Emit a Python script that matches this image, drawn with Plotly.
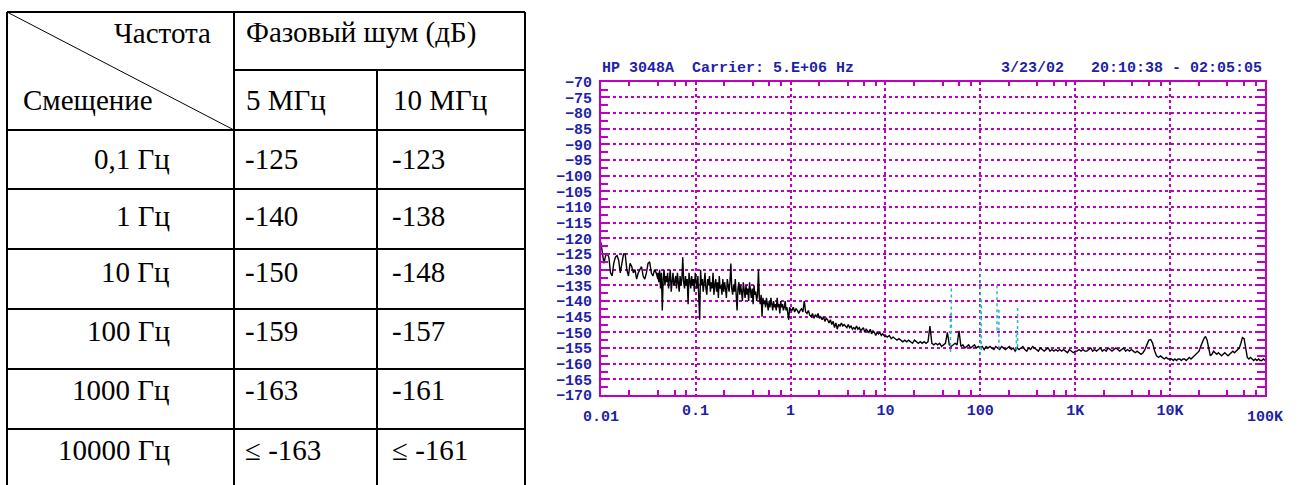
import numpy as np
import plotly.graph_objects as go

# ---------------- Table data ----------------
hdr_freq = "Частота"
hdr_offset = "Смещение"
hdr_noise = "Фазовый шум (дБ)"
carriers = ["5 МГц", "10 МГц"]
offsets = ["0,1 Гц", "1 Гц", "10 Гц", "100 Гц", "1000 Гц", "10000 Гц"]
noise_5mhz = ["-125", "-140", "-150", "-159", "-163", "≤ -163"]
noise_10mhz = ["-123", "-138", "-148", "-157", "-161", "≤ -161"]

# ---------------- Chart data ----------------
chart_title_left = "HP 3048A\u00a0\u00a0Carrier: 5.E+06 Hz"
chart_title_right = "3/23/02\u00a0\u00a0 20:10:38 - 02:05:05"

x_tick_vals = [0.1, 1, 10, 100, 1000, 10000]
x_tick_text = ["0.1", "1", "10", "100", "1K", "10K"]
x_edge_vals = [0.01, 100000]
x_edge_text = ["0.01", "100K"]

# measured phase noise trace, split into frequency segments (Hz) with values (dBc/Hz)
seg_edges = [(0.01, 0.04), (0.04, 1.0), (1.0, 10.0), (10.0, 100.0),
             (100.0, 1000.0), (1000.0, 10000.0), (10000.0, 100000.0)]
seg1 = [-121, -124, -128, -125.5, -125, -126, -131, -132, -128, -126,
        -125.5, -127, -131, -128, -125, -125, -130, -132, -128, -129,
        -131, -130, -133, -131, -130, -129, -132, -133, -131, -128,
        -127.5, -131, -132, -130, -131, -133]
seg2 = [-131, -134, -130, -136, -131, -143, -133, -130, -135, -132,
        -134, -131, -136, -132, -130, -137, -133, -131, -135, -134,
        -132, -136, -131, -134, -137, -132, -135, -133, -126, -134,
        -136, -132, -135, -133, -141, -131, -134, -136, -132, -135,
        -133, -137, -131, -134, -136, -132, -138, -146, -130, -135,
        -133, -137, -134, -131, -136, -138, -133, -135, -132, -137,
        -134, -136, -131, -138, -135, -133, -137, -134, -139, -132,
        -136, -135, -138, -133, -137, -134, -136, -139, -133, -135,
        -137, -134, -128, -136, -138, -135, -137, -133, -139, -143,
        -136, -134, -138, -135, -137, -140, -134, -136, -139, -135,
        -138, -136, -140, -134, -137, -139, -136, -141, -135, -138,
        -137, -140, -138, -130, -139, -141, -138, -145, -139, -141,
        -140, -142, -139, -141, -143, -140, -142, -139, -141, -143,
        -140, -142, -141, -143, -139, -142, -141, -144, -140, -142,
        -141, -143, -142, -140, -143, -142, -144, -146, -142, -143]
seg3 = [-142.5, -143, -142, -143.5, -142.5, -143, -144, -143, -142.5, -143.5,
        -140, -143.5, -144, -143, -144.5, -145, -144, -145.5, -144.5, -145,
        -144, -145.5, -145, -146, -145, -146.5, -145.5, -146, -147, -146,
        -147.5, -146.5, -148.5, -147, -149, -147.5, -148, -147, -148, -147.5,
        -148, -148.5, -147.5, -148.5, -148, -149, -148.5, -149, -148, -149,
        -148.5, -149.5, -149, -148.5, -150, -149, -149.5, -150, -149, -150.5,
        -149.5, -150, -151, -150, -150.5, -150, -151, -150.5, -151, -151.5]
seg4 = [-151, -151.5, -151, -152, -151.5, -152, -152.5, -152, -152.5, -153,
        -152.5, -153, -152.5, -153, -153.5, -152.5, -153, -153.5, -153, -153.5,
        -153, -153.5, -153, -148, -153.5, -154, -153.5, -154, -153.5, -154.5,
        -154, -153.5, -150, -154, -154.5, -154, -153.5, -154, -149.5, -154.5,
        -154, -155, -154.5, -154, -155, -154.5, -154, -155, -154.5, -155]
seg5 = [-155, -154.5, -155.5, -154.5, -155, -154.5, -155, -155.5, -154.5, -155,
        -155.5, -154.5, -155, -155.5, -155, -154.5, -155.5, -155, -156, -155,
        -155.5, -155, -154.5, -155.5, -156, -155, -155.5, -154.5, -155, -155.5,
        -156, -155, -155.5, -156, -155.5, -155, -156, -155.5, -156, -155.5,
        -156, -155.5, -156, -155.5, -156, -156.5, -155.5, -156, -156.5, -156]
seg6 = [-156, -156, -155.5, -156, -155.5, -156, -156, -155.5, -155, -156,
        -155.5, -156, -155.5, -155, -156, -155.5, -156, -155, -155.5, -156,
        -155.5, -155, -155.5, -156, -155.5, -155, -156, -155.5, -156, -155.5,
        -156, -156.5, -156, -156.5, -157, -156.5, -155.5, -154, -152.5, -152.3,
        -153.5, -156, -157.5, -158, -157.5, -158, -158.5, -158, -158.5, -158.5]
seg7 = [-158.5, -158.5, -159, -158.5, -159, -158.5, -158.5, -159, -158.5, -158.5,
        -159, -158.5, -158, -158.5, -158, -157.5, -157, -156.5, -156, -154.5,
        -153, -152, -151.3, -152.5, -155, -157.5, -157, -156, -156.5, -157,
        -156.5, -157, -157.5, -157, -156.5, -157, -157.5, -157, -156.5, -156,
        -156.5, -156, -155.5, -155, -153.5, -151.7, -152, -155, -158, -158.5,
        -158, -158.5, -159, -158.5, -159, -158.5, -159, -159, -158.5, -159]
segments = [seg1, seg2, seg3, seg4, seg5, seg6, seg7]

# spurs (cyan dotted)
spur_freq = [48.5, 49.5, 100, 102.5, 150, 157, 240, 247]
spur_top = [-144, -135.5, -129.6, -138.7, -133.9, -142, -149.3, -142.1]
spur_bottom = [-156.3, -150.4, -157.3, -155.7, -149.3, -155.2, -155.5, -154.7]

# ---------------- build ----------------
W, H = 1309, 485
def px(x):
    return x / W
def py(y):
    return 1 - y / H

freq = []
vals = []
for (a, b), seg in zip(seg_edges, segments):
    freq.extend(np.logspace(np.log10(a), np.log10(b), len(seg)).tolist())
    vals.extend(seg)

spur_x, spur_y = [], []
for f, t, b in zip(spur_freq, spur_top, spur_bottom):
    spur_x += [f, f, None]
    spur_y += [b, t, None]

MAG = "#c000c0"
BLUE = "#1f1fa8"
CYAN = "#2bb8c4"
mono = dict(family="Liberation Mono", size=15, color=BLUE, weight="bold")

fig = go.Figure()
fig.add_trace(go.Scatter(x=freq, y=vals, mode="lines",
                         line=dict(color="black", width=1.4),
                         xaxis="x", yaxis="y", hoverinfo="skip"))
fig.add_trace(go.Scatter(x=spur_x, y=spur_y, mode="lines",
                         line=dict(color=CYAN, width=1.5, dash="dot"),
                         xaxis="x2", yaxis="y", hoverinfo="skip"))

xdom = [px(600.7), px(1265)]
ydom = [py(395), py(81.7)]

fig.update_layout(
    width=W, height=H, margin=dict(l=0, r=0, t=0, b=0, pad=0, autoexpand=False),
    paper_bgcolor="white", plot_bgcolor="white", showlegend=False,
    xaxis=dict(type="log", range=[-2, 5], domain=xdom, automargin=False,
               tickvals=x_tick_vals, ticktext=x_tick_text,
               ticks="", showgrid=True, gridcolor=MAG, griddash="dot", gridwidth=1.5,
               showline=True, linecolor=MAG, linewidth=1.5, mirror=True,
               tickfont=mono, zeroline=False),
    xaxis2=dict(type="log", range=[-2, 5], domain=xdom, overlaying="x",
                anchor="y", automargin=False,
                tickvals=[m * 10.0 ** d for d in range(-2, 5) for m in (2, 4, 6, 8)],
                ticks="inside", ticklen=5, tickwidth=1.5, tickcolor=MAG,
                showticklabels=False, showgrid=False, showline=True,
                linecolor=MAG, linewidth=1.5, mirror="ticks", side="bottom"),
    yaxis=dict(range=[-170, -70], domain=ydom, dtick=5, tick0=-70, automargin=False,
               ticks="inside", ticklen=9, tickwidth=1.5, tickcolor=MAG,
               showgrid=True, gridcolor=MAG, griddash="dot", gridwidth=1.5,
               showline=True, linecolor=MAG, linewidth=1.5, mirror="ticks",
               minor=dict(dtick=2.5, ticks="inside", ticklen=8, tickwidth=1.5,
                          tickcolor=MAG, showgrid=False),
               tickfont=mono, ticklabelstandoff=4, zeroline=False),
)

annotations = [
    dict(text=chart_title_left, x=px(600), y=py(69), xanchor="left", yanchor="middle"),
    dict(text=chart_title_right, x=px(1264), y=py(69), xanchor="right", yanchor="middle"),
]
for a in annotations:
    a.update(xref="paper", yref="paper", showarrow=False, font=mono)
for v, t in zip(x_edge_vals, x_edge_text):
    annotations.append(dict(text=t, x=np.log10(v), xref="x", y=py(407), yref="paper",
                            yanchor="top", xanchor="center", showarrow=False, font=mono))

# ---------------- table ----------------
serif = dict(family="Liberation Serif", size=29, color="black")
col_x = [7, 234, 377, 525]
row_y = [130, 189, 249, 309, 369, 429]
top_y = 12
sub_y = 70
shapes = []
def line(x0, y0, x1, y1, w=2):
    shapes.append(dict(type="line", xref="paper", yref="paper",
                       x0=px(x0), y0=py(y0), x1=px(x1), y1=py(y1),
                       line=dict(color="black", width=w)))
line(col_x[0], top_y, col_x[0], H)
line(col_x[1], top_y, col_x[1], H)
line(col_x[2], sub_y, col_x[2], H)
line(col_x[3], top_y, col_x[3], H)
line(col_x[0], top_y, col_x[3], top_y)
line(col_x[1], sub_y, col_x[3], sub_y)
for ry in row_y:
    line(col_x[0], ry, col_x[3], ry)
line(col_x[0], top_y, col_x[1], row_y[0], w=1)

def txt(t, x, y, anchor):
    annotations.append(dict(text=t, x=px(x), y=py(y), xref="paper", yref="paper",
                            xanchor=anchor, yanchor="middle", showarrow=False, font=serif))
txt(hdr_freq, 213, 33, "right")
txt(hdr_noise, 244, 33, "left")
txt(hdr_offset, 21, 100, "left")
txt(carriers[0], 244, 100, "left")
txt(carriers[1], 391, 100, "left")
row_text_y = [159, 216, 272, 331, 390, 450]
for o, a5, a10, ty in zip(offsets, noise_5mhz, noise_10mhz, row_text_y):
    txt(o, 172, ty, "right")
    txt(a5, 243, ty, "left")
    txt(a10, 390, ty, "left")

fig.update_layout(shapes=shapes, annotations=annotations)
fig.write_html("out.html", config={"displayModeBar": False},
               post_script="document.body.style.margin='0';document.body.style.overflow='hidden';")
